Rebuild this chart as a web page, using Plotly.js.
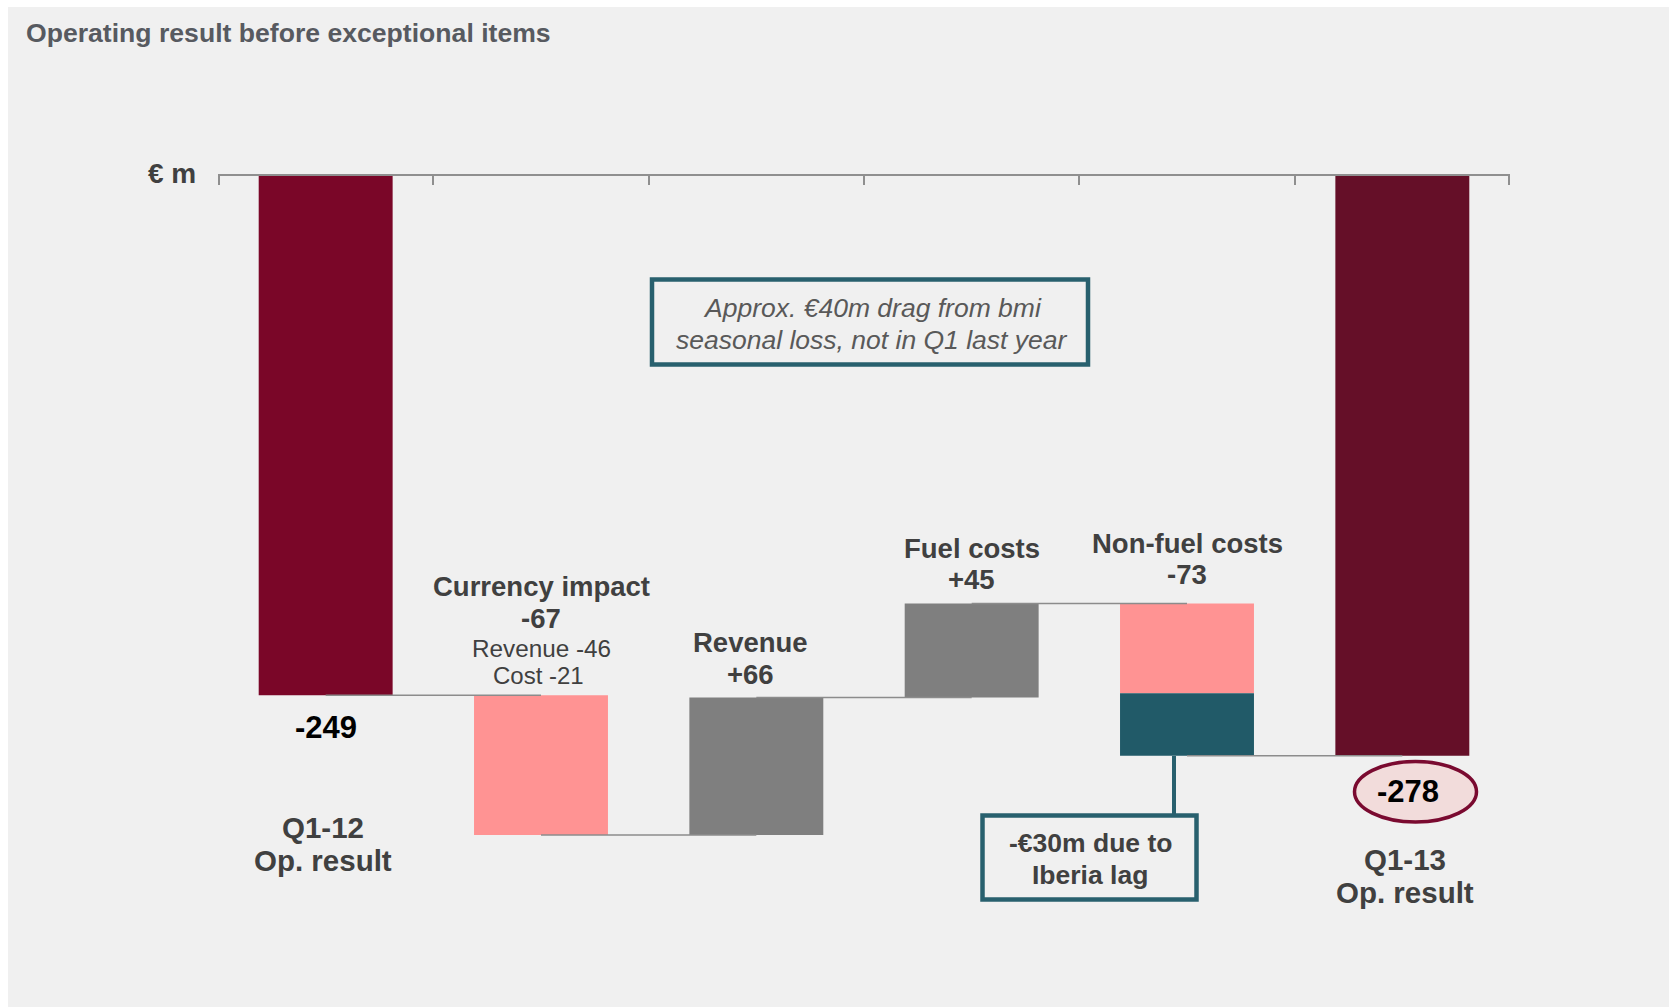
<!DOCTYPE html>
<html><head><meta charset="utf-8">
<script src="https://cdn.plot.ly/plotly-3.0.1.min.js"></script>
<style>html,body{margin:0;padding:0;background:#fff}</style>
</head><body><div id="chart" style="width:1669px;height:1008px"></div>
<script>
// ---- data ----
const categories = ['Q1-12<br>Op. result', 'Currency impact', 'Revenue', 'Fuel costs', 'Non-fuel costs', 'Q1-13<br>Op. result'];
const startTotal = -249;
const changes = [-67, 66, 45, -73];          // currency, revenue, fuel, non-fuel
const endTotal = -278;
const currencyPartNames = ['Revenue', 'Cost'];
const currencyPartValues = [-46, -21];
const iberiaLag = -30;                        // part of the non-fuel change
const titleText = 'Operating result before exceptional items';
const unitText = '€ m';
const noteText = 'Approx. €40m drag from bmi<br>seasonal loss, not in Q1 last year';
const iberiaText = '-€30m due to<br>Iberia lag';

// ---- geometry ----
const W = 1669, H = 1008, L = 218, R = 1510, T = 176, B = 906;
const fx = px => (px - L) / (R - L);
const fy = py => (B - py) / (B - T);
const FONT = 'Liberation Sans, Arial, sans-serif';
const C = {tot0: '#7A0628', tot1: '#650F28', neg: '#FF9393', pos: '#7F7F7F', teal: '#215A68', conn: '#8C8C8C', box: '#28606E', axis: '#8F8F8F'};
const fmt = v => (v > 0 ? '+' : '') + v;

// running levels
const levels = [startTotal];
const bases = [];
let run = startTotal;
changes.forEach(c => { bases.push(run); run += c; levels.push(run); });
const barW = 0.622;

const traces = [];
traces.push({type: 'bar', x: [0, 5], y: [startTotal, endTotal], base: [0, 0], width: barW,
  marker: {color: [C.tot0, C.tot1], line: {width: 0}}, hoverinfo: 'skip'});
// currency, revenue, fuel
traces.push({type: 'bar', x: [1, 2, 3], y: changes.slice(0, 3), base: bases.slice(0, 3), width: barW,
  marker: {color: changes.slice(0, 3).map(v => v < 0 ? C.neg : C.pos), line: {width: 0}}, hoverinfo: 'skip'});
// non-fuel split
const nonFuelOther = changes[3] - iberiaLag;
traces.push({type: 'bar', x: [4], y: [nonFuelOther], base: [bases[3]], width: barW,
  marker: {color: C.neg, line: {width: 0}}, hoverinfo: 'skip'});
traces.push({type: 'bar', x: [4], y: [iberiaLag], base: [bases[3] + nonFuelOther], width: barW,
  marker: {color: C.teal, line: {width: 0}}, hoverinfo: 'skip'});
// connectors
const cx = [], cy = [];
for (let i = 0; i < levels.length; i++) { cx.push(i, i + 1, null); cy.push(levels[i], levels[i], null); }
traces.push({type: 'scatter', mode: 'lines', x: cx, y: cy, line: {color: C.conn, width: 1.5}, hoverinfo: 'skip'});

const cats = categories.map(c => c.split('<br>'));
const ann = [];
function lab(x, y, shift, text, size, opts) {
  opts = opts || {};
  ann.push(Object.assign({xref: 'x', yref: 'y', x: x, y: y, yshift: shift, xanchor: 'center', yanchor: 'middle',
    showarrow: false, text: text,
    font: {family: FONT, size: size, color: opts.color || '#404040', weight: opts.weight || 'bold', style: opts.style || 'normal'}},
    opts.extra || {}));
}
const BOLD = 27.5, TOTCAT = 29.5, NUM = 31;
// Q1-12
lab(0, startTotal, -32, String(startTotal), NUM, {color: '#000'});
lab(0, startTotal, -131.7, cats[0][0], TOTCAT, {extra: {xshift: -3}});
lab(0, startTotal, -165, cats[0][1], TOTCAT, {extra: {xshift: -3}});
// Currency
lab(1, bases[0], 109, cats[1][0], BOLD);
lab(1, bases[0], 77, fmt(changes[0]), BOLD);
lab(1, bases[0], 47, currencyPartNames[0] + ' ' + fmt(currencyPartValues[0]), 24.3, {weight: 'normal'});
lab(1, bases[0], 19.5, currencyPartNames[1] + ' ' + fmt(currencyPartValues[1]), 24, {weight: 'normal', extra: {xshift: -3}});
// Revenue
lab(2, levels[2], 55.4, cats[2][0], BOLD, {extra: {xshift: -6}});
lab(2, levels[2], 23.4, fmt(changes[1]), BOLD, {extra: {xshift: -6}});
// Fuel
lab(3, levels[3], 54.6, cats[3][0], BOLD);
lab(3, levels[3], 23.6, fmt(changes[2]), BOLD);
// Non-fuel
lab(4, bases[3], 59.6, cats[4][0], BOLD);
lab(4, bases[3], 28.6, fmt(changes[3]), BOLD);
// Q1-13
lab(5, endTotal, -36, String(endTotal), NUM, {color: '#000', extra: {xshift: 6}});
lab(5, endTotal, -104, cats[5][0], TOTCAT, {extra: {xshift: 3}});
lab(5, endTotal, -137, cats[5][1], TOTCAT, {extra: {xshift: 3}});

// unit label
ann.push({xref: 'paper', yref: 'paper', x: fx(198), y: fy(173), xanchor: 'right', yanchor: 'middle', showarrow: false,
  text: unitText, font: {family: FONT, size: 28, color: '#404040', weight: 'bold'}});
// note box text
const noteLines = noteText.split('<br>');
ann.push({xref: 'paper', yref: 'paper', x: fx(872), y: fy(307.6), xanchor: 'center', yanchor: 'middle', showarrow: false,
  text: noteLines[0], font: {family: FONT, size: 26.5, color: '#595959', style: 'italic'}});
ann.push({xref: 'paper', yref: 'paper', x: fx(872), y: fy(339.5), xanchor: 'center', yanchor: 'middle', showarrow: false,
  text: noteLines[1], font: {family: FONT, size: 26.5, color: '#595959', style: 'italic'}});
// iberia box text
const ibLines = iberiaText.split('<br>');
ann.push({xref: 'paper', yref: 'paper', x: fx(1090), y: fy(843.3), xanchor: 'center', yanchor: 'middle', showarrow: false,
  text: ibLines[0], font: {family: FONT, size: 26.5, color: '#404040', weight: 'bold'}});
ann.push({xref: 'paper', yref: 'paper', x: fx(1090), y: fy(875), xanchor: 'center', yanchor: 'middle', showarrow: false,
  text: ibLines[1], font: {family: FONT, size: 26.5, color: '#404040', weight: 'bold'}});

const shapes = [
  {type: 'rect', xref: 'paper', yref: 'paper', x0: fx(8), x1: fx(1669), y0: fy(1007), y1: fy(7), fillcolor: '#F0F0F0', line: {width: 0}, layer: 'below'},
  // end ticks of the category axis
  {type: 'line', xref: 'paper', yref: 'paper', x0: fx(219), x1: fx(219), y0: fy(176), y1: fy(185), line: {color: C.axis, width: 2}},
  {type: 'line', xref: 'paper', yref: 'paper', x0: fx(1509), x1: fx(1509), y0: fy(176), y1: fy(185), line: {color: C.axis, width: 2}},
  {type: 'rect', xref: 'paper', yref: 'paper', x0: fx(652), x1: fx(1088), y0: fy(364.5), y1: fy(279.5), fillcolor: 'rgba(0,0,0,0)', line: {color: C.box, width: 4.5}},
  {type: 'rect', xref: 'paper', yref: 'paper', x0: fx(982.5), x1: fx(1196.5), y0: fy(899.5), y1: fy(815.5), fillcolor: 'rgba(0,0,0,0)', line: {color: C.box, width: 4.5}},
  {type: 'line', xref: 'paper', yref: 'paper', x0: fx(1174), x1: fx(1174), y0: fy(756), y1: fy(815), line: {color: C.box, width: 4}},
  {type: 'circle', xref: 'paper', yref: 'paper', x0: fx(1354.5), x1: fx(1476.5), y0: fy(822), y1: fy(761.5), fillcolor: '#F2DCDB', line: {color: '#7A0A30', width: 3.5}, layer: 'below'}
];

const layout = {
  width: W, height: H,
  margin: {l: L, r: W - R, t: T, b: H - B, pad: 0},
  paper_bgcolor: '#FFFFFF', plot_bgcolor: 'rgba(0,0,0,0)',
  showlegend: false, barmode: 'overlay',
  title: {text: titleText, x: 26 / W, xanchor: 'left', y: 1 - 33 / H, yanchor: 'middle',
    font: {family: FONT, size: 26.6, color: '#575A60', weight: 'bold'}},
  xaxis: {range: [-0.5, 5.5], side: 'top', showline: true, linecolor: C.axis, linewidth: 2,
    ticks: 'inside', ticklen: 9, tickwidth: 2, tickcolor: C.axis,
    tickmode: 'array', tickvals: [0.5, 1.5, 2.5, 3.5, 4.5], showticklabels: false,
    showgrid: false, zeroline: false, fixedrange: true},
  yaxis: {range: [-350, 0], visible: false, fixedrange: true},
  shapes: shapes, annotations: ann
};
Plotly.newPlot('chart', traces, layout, {displayModeBar: false, staticPlot: true});
</script></body></html>
